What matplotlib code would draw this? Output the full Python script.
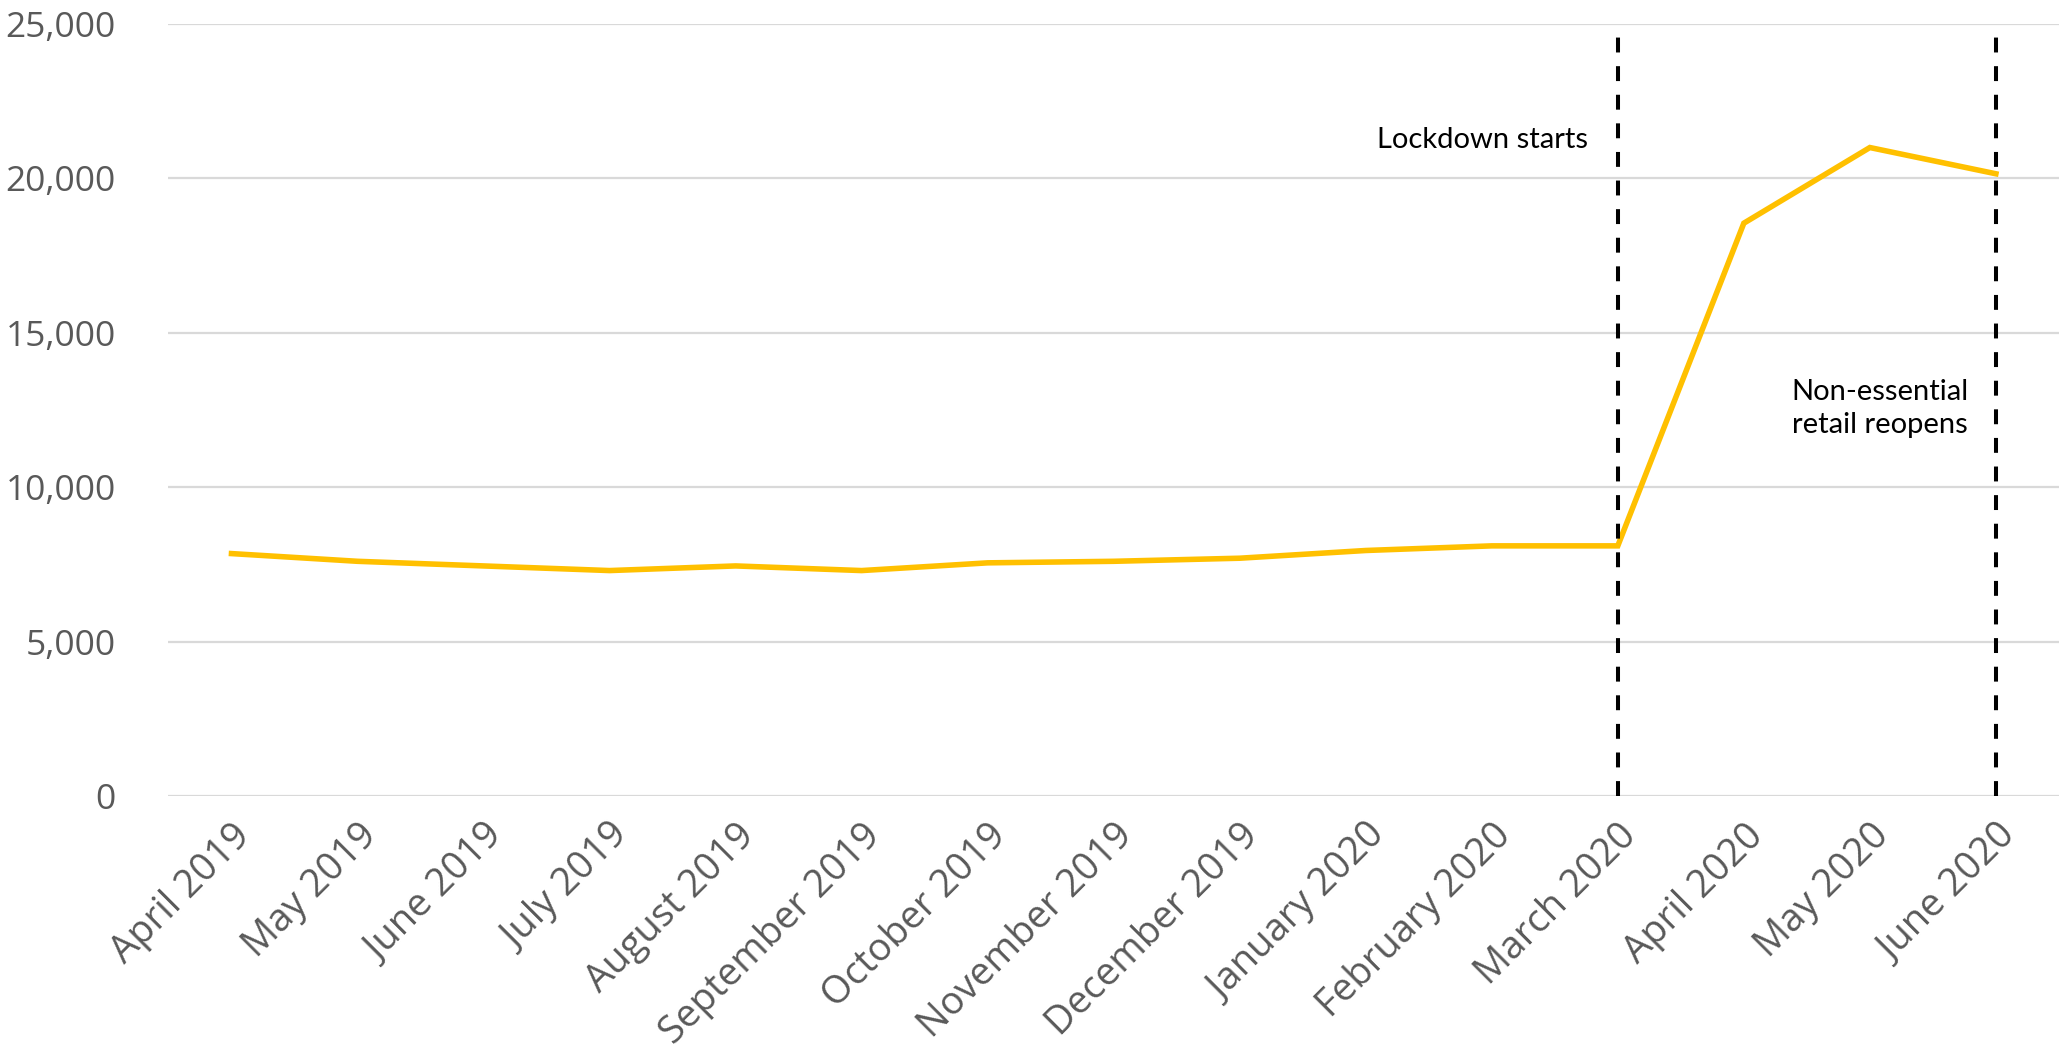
import matplotlib
matplotlib.use('Agg')
import matplotlib.pyplot as plt
from matplotlib.ticker import FuncFormatter

months = ['April 2019', 'May 2019', 'June 2019', 'July 2019', 'August 2019',
          'September 2019', 'October 2019', 'November 2019', 'December 2019',
          'January 2020', 'February 2020', 'March 2020', 'April 2020',
          'May 2020', 'June 2020']
values = [7850, 7600, 7450, 7300, 7450, 7300, 7550, 7600, 7700,
          7950, 8100, 8100, 18550, 21000, 20150]
event_months = ['March 2020', 'June 2020']
yticks = [0, 5000, 10000, 15000, 20000, 25000]


def main():
    fig = plt.figure(figsize=(20.62, 10.63), dpi=100)
    ax = fig.add_axes([0.0817, 0.2512, 0.9168, 0.7262])

    x = list(range(len(months)))
    ax.plot(x, values, color='#FFC000', lw=4.0, solid_joinstyle='miter', zorder=3)

    # lockdown / reopening markers
    for m in event_months:
        ax.axvline(months.index(m), color='black', lw=2.9,
                   linestyle=(0, (3.7, 3.4)), zorder=4)

    ax.set_xlim(-0.5, len(months) - 0.5)
    ax.set_ylim(0, 25000)
    ax.set_yticks(yticks)
    ax.yaxis.set_major_formatter(FuncFormatter(lambda v, p: f'{int(v):,}'))
    ax.grid(axis='y', color='#d9d9d9', lw=1.6, zorder=0)
    ax.set_axisbelow(True)

    ax.set_xticks(x)
    ax.set_xticklabels(months, rotation=45, ha='right', rotation_mode='anchor')
    ax.tick_params(axis='both', length=0, colors='#595959')
    ax.tick_params(axis='y', pad=38, labelsize=25.5)
    ax.tick_params(axis='x', pad=15, labelsize=27.5)
    for lab in ax.get_xticklabels() + ax.get_yticklabels():
        lab.set_family(['Open Sans', 'DejaVu Sans'])

    for s in ax.spines.values():
        s.set_visible(False)

    ax.text(10.76, 21250, 'Lockdown starts', ha='right', va='center',
            fontsize=21, color='black', family=['Lato', 'DejaVu Sans'])
    ax.text(13.78, 12550, 'Non-essential\nretail reopens', ha='right', va='center',
            fontsize=21, color='black', linespacing=1.35,
            family=['Lato', 'DejaVu Sans'])

    fig.savefig('out.png', dpi=100, facecolor='white')


if __name__ == '__main__':
    main()
